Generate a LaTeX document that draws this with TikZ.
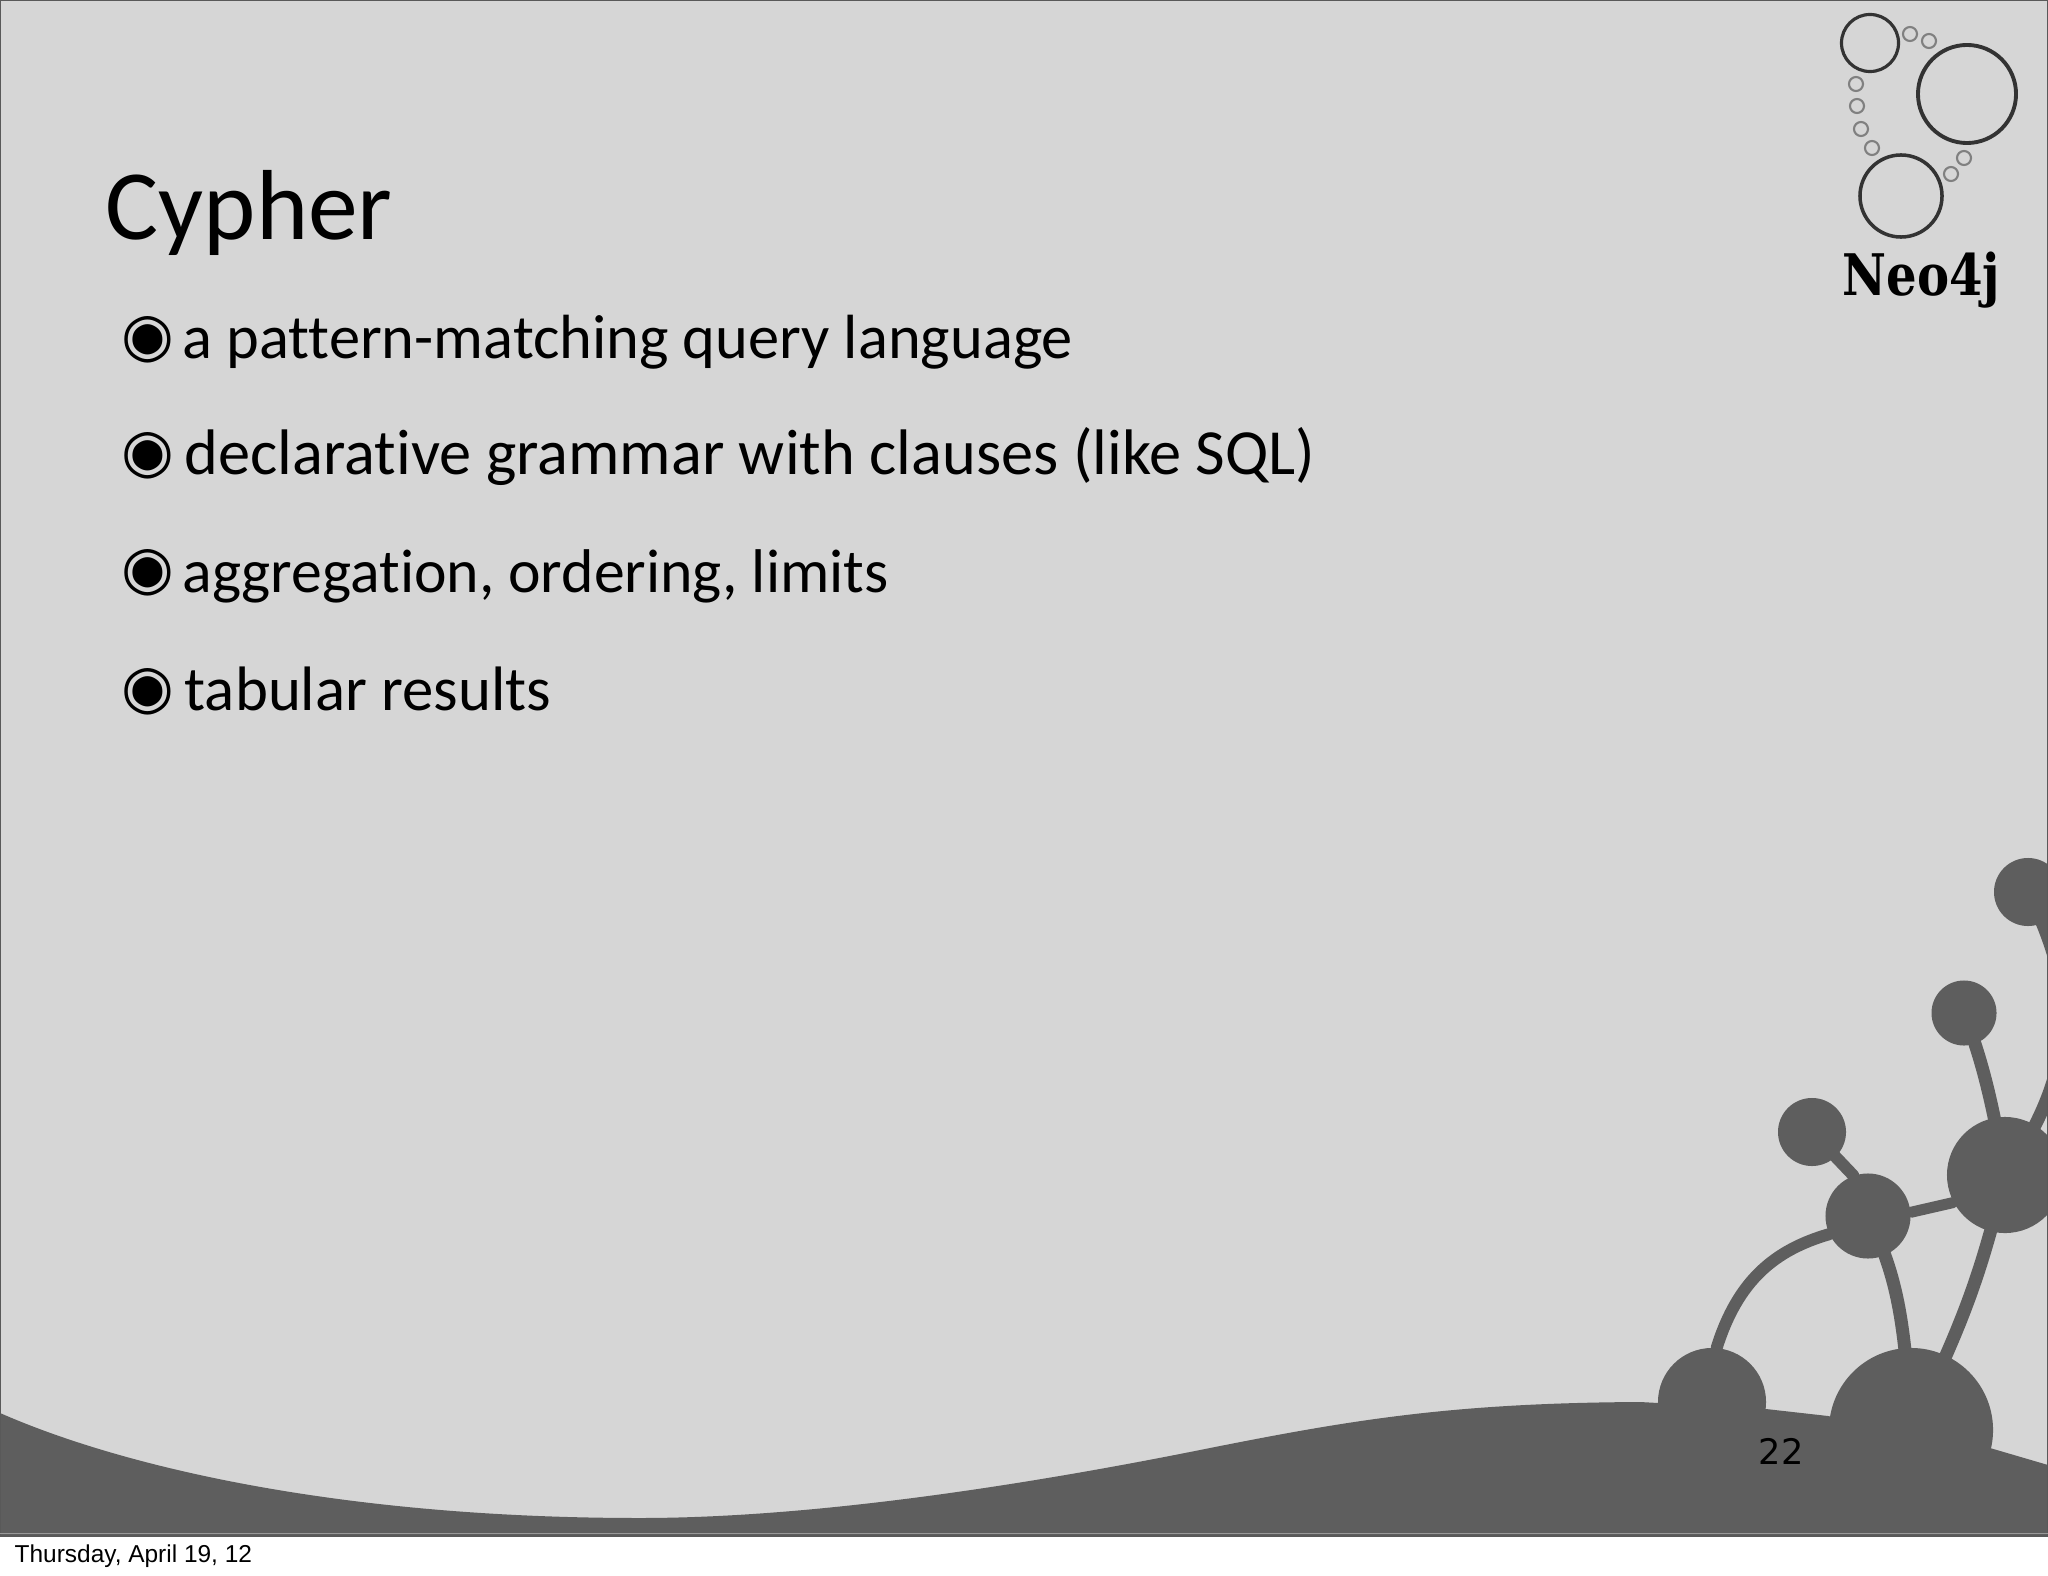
\documentclass[tikz,border=0pt]{standalone}
\usepackage{fontspec}
\setmainfont[Ligatures=NoCommon]{Carlito}
\newfontfamily\bulletfont{DejaVu Sans}
\newfontfamily\logofont[FakeStretch=0.84]{DejaVu Serif}
\newfontfamily\datefont{Liberation Sans}
\definecolor{slidegray}{HTML}{D6D6D6}
\definecolor{blobgray}{HTML}{5E5E5E}
\definecolor{ringgray}{HTML}{808080}
\tikzset{
	blob/.style={circle, fill=blobgray, inner sep=0pt, minimum size=#1},
	stem/.style={draw=blobgray, line width=#1, line cap=round},
	ring/.style={circle, draw=black!80, inner sep=0pt, minimum size=#1},
	bead/.style={circle, draw=ringgray, line width=0.6pt, inner sep=0pt, minimum size=0.14cm},
	item/.style={anchor=base west, inner sep=0pt, font=\fontsize{#1}{22}\selectfont},
	dotmark/.style={anchor=center, inner sep=0pt, font=\bulletfont\fontsize{17.2}{22}\selectfont}
}

\begin{document}
\begin{tikzpicture}[x=0.01cm, y=-0.01cm]
	\useasboundingbox (0,0) rectangle (2048,1576);
	\fill [slidegray] (0,0) rectangle (2048,1536);
	\begin{scope}
		\clip (0,0) rectangle (2048,1536);
		\fill [blobgray] (0,1413) .. controls (130,1470) and (350,1518) .. (640,1518)
			.. controls (800,1518) and (1000,1490) .. (1200,1450)
			.. controls (1350,1420) and (1450,1403) .. (1640,1402)
			-- (1766,1409) -- (1828,1416) -- (1990,1448) -- (2048,1465)
			-- (2048,1536) -- (0,1536) -- cycle;
		\node [blob=0.68cm] (tipA) at (2028,892) {};
		\node [blob=0.65cm] (tipB) at (1964,1013) {};
		\node [blob=0.68cm] (tipC) at (1812,1132) {};
		\node [blob=0.85cm] (hubS) at (1868,1216) {};
		\node [blob=1.16cm] (hubL) at (2005,1175) {};
		\node [blob=1.08cm] (rootS) at (1712,1402) {};
		\node [blob=1.64cm] (rootL) at (1911,1430) {};
		\draw [stem=0.13cm] (tipA.center) .. controls (2072,980) and (2085,1060) .. (hubL.center);
		\draw [stem=0.13cm] (tipB.center) .. controls (1982,1060) and (1992,1100) .. (hubL.center);
		\draw [stem=0.12cm] (tipC.center) -- (hubS.110);
		\draw [stem=0.11cm] (hubS.5) -- (hubL.208);
		\draw [stem=0.12cm] (hubS.205) .. controls (1775,1250) and (1738,1280) .. (rootS.85);
		\draw [stem=0.13cm] (hubS.center) .. controls (1897,1275) and (1905,1320) .. (rootL.center);
		\draw [stem=0.13cm] (hubL.center) .. controls (1982,1270) and (1965,1320) .. (rootL.center);
	\end{scope}
	\draw [black!65, line width=0.6pt] (0,0) rectangle (2048,1536);
	\draw [white!60!black, line width=0.4pt] (0,1533.5) -- (2048,1533.5);
	\node [anchor=base west, inner sep=0pt, font=\fontsize{28.3}{34}\selectfont] (title) at (105,239) {Cypher};
	\node [dotmark] (markA) at (148,340) {◉};
	\node [item=17.75] (itemA) at (182,358) {a pattern-matching query language};
	\node [dotmark] (markB) at (148,456) {◉};
	\node [item=18.3] (itemB) at (184,474) {declarative grammar with clauses (like SQL)};
	\node [dotmark] (markC) at (148,573) {◉};
	\node [item=17.55] (itemC) at (182,592) {aggregation, ordering, limits};
	\node [dotmark] (markD) at (148,692) {◉};
	\node [item=17.85] (itemD) at (184,710) {tabular results};
	\node [ring=0.57cm, line width=0.9pt] (logoA) at (1870,43) {};
	\node [ring=0.98cm, line width=1.1pt] (logoB) at (1967,94) {};
	\node [ring=0.82cm, line width=1pt] (logoC) at (1901,196) {};
	\node [bead] (beadA) at (1910,34) {};
	\node [bead] (beadB) at (1929,41) {};
	\node [bead] (beadC) at (1856,84) {};
	\node [bead] (beadD) at (1857,106) {};
	\node [bead] (beadE) at (1861,129) {};
	\node [bead] (beadF) at (1872,148) {};
	\node [bead] (beadG) at (1964,158) {};
	\node [bead] (beadH) at (1951,174) {};
	\node [anchor=base west, inner sep=0pt, font=\logofont\bfseries\fontsize{16.3}{20}\selectfont] (logo) at (1842,296) {Neo4j};
	\node [anchor=base west, inner sep=0pt, font=\bulletfont\fontsize{10}{12}\selectfont] (page) at (1758,1464) {22};
	\node [anchor=base west, inner sep=0pt, font=\datefont\fontsize{6.95}{8}\selectfont] (date) at (14,1562) {Thursday, April 19, 12};
\end{tikzpicture}
\end{document}
